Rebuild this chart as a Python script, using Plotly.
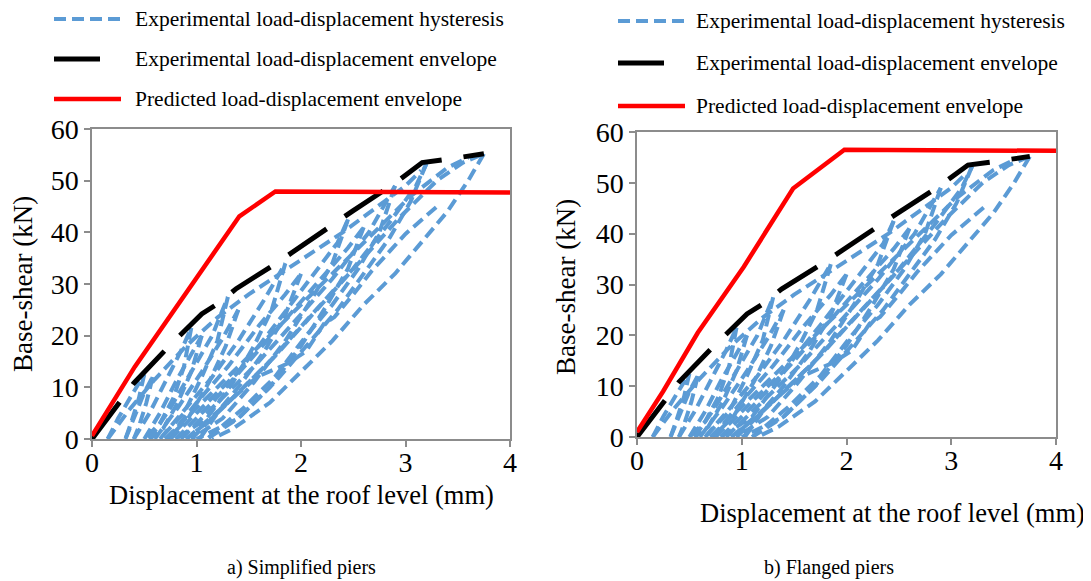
import plotly.graph_objects as go

W, H = 1091, 581
OFF = 8  # page body margin of the written html

# ---------------- data ----------------
# Experimental hysteresis branches (same test data in both panels); None separates branches
hyst_x = [0.15, 0.25, 0.38, 0.5, None,
          0.5, 0.45, 0.38, 0.32, None,
          0.32, 0.42, 0.5, 0.58, None,
          0.58, 0.52, 0.45, 0.4, None,
          0.4, 0.55, 0.7, 0.85, 0.95, None,
          0.95, 0.88, 0.78, 0.65, 0.5, None,
          0.5, 0.65, 0.8, 0.95, 1.05, None,
          1.05, 0.95, 0.82, 0.68, 0.55, None,
          0.55, 0.75, 0.95, 1.15, 1.3, None,
          1.3, 1.2, 1.05, 0.88, 0.65, None,
          0.6, 0.82, 1.05, 1.25, 1.4, None,
          1.4, 1.28, 1.12, 0.92, 0.72, None,
          0.65, 0.9, 1.15, 1.4, 1.65, 1.85, None,
          1.85, 1.72, 1.55, 1.35, 1.1, 0.8, None,
          0.72, 1.0, 1.3, 1.6, 1.85, 2.0, None,
          2.0, 1.85, 1.65, 1.4, 1.15, 0.9, None,
          0.75, 1.05, 1.4, 1.75, 2.05, 2.35, 2.45, None,
          2.45, 2.3, 2.1, 1.85, 1.55, 1.25, 0.95, None,
          0.8, 1.15, 1.5, 1.85, 2.15, 2.45, 2.6, None,
          2.6, 2.45, 2.25, 2.0, 1.7, 1.4, 1.0, None,
          0.85, 1.2, 1.55, 1.95, 2.3, 2.65, 2.9, None,
          2.9, 2.75, 2.55, 2.3, 2.05, 1.75, 1.45, 1.1, None,
          0.9, 1.3, 1.7, 2.1, 2.5, 2.85, 3.1, 3.2, None,
          3.2, 3.05, 2.85, 2.6, 2.35, 2.05, 1.75, 1.4, 1.1, None,
          1.03, 1.22, 1.38, 1.58, 1.87, 2.05, 2.22, 2.32, 2.5, 2.68, 3.0, 3.33, None,
          0.95, 1.35, 1.75, 2.15, 2.55, 2.95, 3.3, 3.55, 3.75, None,
          3.75, 3.6, 3.4, 3.15, 2.9, 2.6, 2.3, 2.0, 1.7, 1.35, 1.15, None,
          0.15, 0.35, 0.6, 0.9, 1.2, 1.5, 1.8, 2.1, 2.4, 2.7, 3.0, 3.15, None,
          0.7, 1.0, 1.3, 1.65, 2.0, 2.35, 2.7, 3.05, 3.4, 3.6]
hyst_y = [0, 4, 8.5, 12.5, None,
          12.5, 8, 3.5, 0, None,
          0, 5, 9, 12, None,
          12, 7, 2.5, 0, None,
          0, 5, 11, 17, 21.5, None,
          21.5, 14, 8, 3, 0, None,
          0, 5, 11, 16.5, 20, None,
          20, 13, 7, 2, 0, None,
          0, 6, 13, 20, 27.5, None,
          27.5, 19, 12, 5, 0, None,
          0, 6, 13, 19.5, 25, None,
          25, 18, 11, 4, 0, None,
          0, 6, 12, 19, 27, 34, None,
          34, 25, 18, 11, 4, 0, None,
          0, 7, 14, 22, 28, 32, None,
          32, 24, 17, 10, 4, 0, None,
          0, 6, 13, 22, 30, 38, 42.5, None,
          42.5, 34, 27, 19, 11, 4, 0, None,
          0, 7, 15, 23, 30, 37, 41, None,
          41, 33, 26, 18, 10, 4, 0, None,
          0, 7, 14, 23, 31, 40, 49, None,
          49, 40, 33, 26, 20, 12, 6, 0, None,
          0, 7, 15, 24, 33, 42, 49, 53.3, None,
          53.3, 46, 39, 32, 25, 18, 11, 4, 0, None,
          0, 5.6, 8.5, 12, 14.6, 17, 22.3, 23.6, 28, 32.6, 39.7, 45.5, None,
          0, 8, 16, 25, 34, 43, 50, 53.5, 55.2, None,
          55.2, 50, 44, 38, 32, 26, 19, 13, 7, 2, 0, None,
          0, 5.5, 11.5, 18, 23.5, 28, 32, 36, 40, 44.5, 49, 52, None,
          0, 6, 12, 19, 26, 33, 40, 47, 52.5, 54.5]

# Experimental envelope
env_x = [0, 0.27, 0.4, 0.72, 0.87, 1.05, 1.22, 1.38, 1.77, 1.95, 2.32, 2.5, 2.89, 3.07, 3.16, 3.49, 3.75]
env_y = [0, 7.2, 10.8, 17.6, 20.6, 24.2, 26.4, 29.1, 34.1, 36.6, 41.8, 44.2, 49.4, 52.0, 53.5, 54.4, 55.2]

# Predicted envelopes
pred_a_x = [0, 0.41, 1.41, 1.755, 4.0]
pred_a_y = [0.6, 14.0, 43.1, 47.9, 47.7]
pred_b_x = [0, 0.25, 0.58, 1.02, 1.49, 1.98, 4.0]
pred_b_y = [1.0, 9.0, 20.5, 33.5, 48.9, 56.5, 56.3]

x_ticks = [0, 1, 2, 3, 4]
y_ticks = [0, 10, 20, 30, 40, 50, 60]

legend_labels = ["Experimental load-displacement hysteresis",
                 "Experimental load-displacement envelope",
                 "Predicted load-displacement envelope"]
x_title = "Displacement at the roof level (mm)"
y_title = "Base-shear (kN)"
captions = ["a) Simplified piers", "b) Flanged piers"]

# ---------------- styles ----------------
BLUE = "#5B9BD5"
BLACK = "#000000"
RED = "#FF0000"
GRAY = "#8C8C8C"
FONT = "Liberation Serif"
blue_line = dict(color=BLUE, width=4, dash="12px,6px")
black_line = dict(color=BLACK, width=5, dash="46px,22px")
red_line = dict(color=RED, width=4.5)

fig = go.Figure()
for xa, ya, px_, py_ in [("x", "y", pred_a_x, pred_a_y), ("x2", "y2", pred_b_x, pred_b_y)]:
    fig.add_trace(go.Scatter(x=hyst_x, y=hyst_y, mode="lines", line=blue_line,
                             connectgaps=False, xaxis=xa, yaxis=ya, showlegend=False,
                             name=legend_labels[0]))
    fig.add_trace(go.Scatter(x=env_x, y=env_y, mode="lines", line=black_line,
                             xaxis=xa, yaxis=ya, showlegend=False, name=legend_labels[1]))
    fig.add_trace(go.Scatter(x=px_, y=py_, mode="lines", line=red_line,
                             xaxis=xa, yaxis=ya, showlegend=False, name=legend_labels[2]))

def px(v):
    return (v - OFF) / W

def py(v):
    return 1 - (v - OFF) / H

axis_common = dict(showgrid=False, zeroline=False, showline=True, linecolor=GRAY, linewidth=1.5,
                   mirror=True, ticks="outside", ticklen=6, tickwidth=1.5, tickcolor=GRAY,
                   automargin=False,
                   tickfont=dict(family=FONT, size=28, color="black"))

fig.update_layout(
    template="none",
    width=W, height=H, margin=dict(l=0, r=0, t=0, b=0, pad=0),
    paper_bgcolor="white", plot_bgcolor="white", showlegend=False,
    xaxis=dict(domain=[px(92), px(510)], range=[0, 4], tickvals=x_ticks, anchor="y",
               ticklabelstandoff=-8, **axis_common),
    yaxis=dict(domain=[py(439), py(129)], range=[0, 60], tickvals=y_ticks, anchor="x", **axis_common),
    xaxis2=dict(domain=[px(637), px(1056)], range=[0, 4], tickvals=x_ticks, anchor="y2",
                ticklabelstandoff=-8, **axis_common),
    yaxis2=dict(domain=[py(437), py(132)], range=[0, 60], tickvals=y_ticks, anchor="x2", **axis_common),
)

ann = []
shapes = []
# legends (manual, long sample lines as in the original)
for (x0, x1, tx, rows) in [(54, 121, 133, [19, 59, 99]), (618, 685, 694, [21, 63, 106])]:
    for lab, row, st in zip(legend_labels, rows, [blue_line, black_line, red_line]):
        shapes.append(dict(type="line", xref="paper", yref="paper", x0=px(x0), x1=px(x1),
                           y0=py(row), y1=py(row), line=st))
        ann.append(dict(text=lab, xref="paper", yref="paper", x=px(tx), y=py(row),
                        xanchor="left", yanchor="middle", showarrow=False,
                        font=dict(family=FONT, size=21.5, color="black")))

# axis titles
ann.append(dict(text=x_title, xref="paper", yref="paper", x=px(301), y=py(495), xanchor="center",
                yanchor="middle", showarrow=False, font=dict(family=FONT, size=26.5, color="black")))
ann.append(dict(text=x_title, xref="paper", yref="paper", x=px(892), y=py(513), xanchor="center",
                yanchor="middle", showarrow=False, font=dict(family=FONT, size=26.5, color="black")))
ann.append(dict(text=y_title, xref="paper", yref="paper", x=px(23), y=py(284), xanchor="center",
                yanchor="middle", textangle=-90, showarrow=False,
                font=dict(family=FONT, size=27, color="black")))
ann.append(dict(text=y_title, xref="paper", yref="paper", x=px(566), y=py(287), xanchor="center",
                yanchor="middle", textangle=-90, showarrow=False,
                font=dict(family=FONT, size=27, color="black")))
# captions
ann.append(dict(text=captions[0], xref="paper", yref="paper", x=px(301), y=py(567), xanchor="center",
                yanchor="middle", showarrow=False, font=dict(family=FONT, size=20, color="black")))
ann.append(dict(text=captions[1], xref="paper", yref="paper", x=px(829), y=py(567), xanchor="center",
                yanchor="middle", showarrow=False, font=dict(family=FONT, size=20, color="black")))

fig.update_layout(annotations=ann, shapes=shapes)
fig.write_html("out.html")
